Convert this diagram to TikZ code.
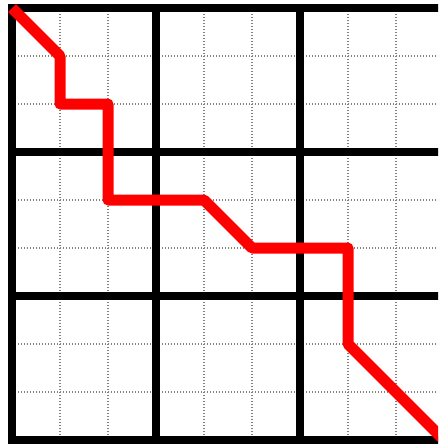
\documentclass[tikz,border=0pt]{standalone}
\begin{document}
\begin{tikzpicture}[x=36pt,y=-36pt,
  fine/.style={gray,line width=0.9pt,dash pattern=on 0.9pt off 1.35pt},
  thick grid/.style={black,line width=6pt,line cap=rect},
  route/.style={red,line width=8.25pt,line join=round}]
\useasboundingbox[fill=white] (-0.25,-0.1667) rectangle (8.875,9.104);
\clip (-0.25,-0.1667) rectangle (8.875,9.104);
\foreach \i in {1,2,4,5,7,8} {
  \draw[fine] (\i,0) -- (\i,9);
  \draw[fine] (0,\i) -- (9,\i);
}
\foreach \i in {0,3,6,9} {
  \draw[thick grid] (\i,0) -- (\i,9);
  \draw[thick grid] (0,\i) -- (9,\i);
}
\draw[route] (0,0) -- (1,1) -- (1,2) -- (2,2) -- (2,4) -- (4,4) -- (5,5) -- (7,5) -- (7,7) -- (9,9);
\end{tikzpicture}
\end{document}
